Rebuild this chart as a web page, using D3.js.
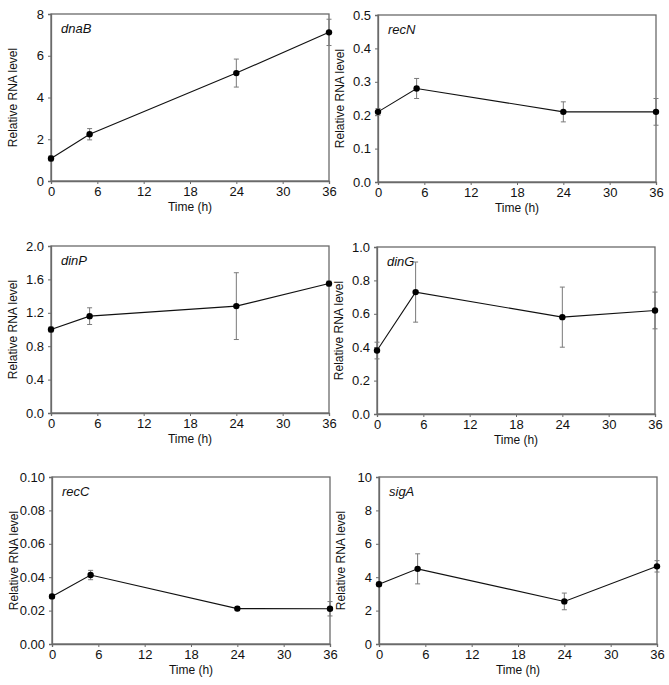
<!DOCTYPE html>
<html><head><meta charset="utf-8">
<script src="https://cdn.jsdelivr.net/npm/d3@7"></script>
<style>
html,body{margin:0;padding:0;background:#fff;}
svg text{font-family:"Liberation Sans",Arial,sans-serif;}
</style></head>
<body>
<svg id="chart" width="669" height="685"></svg>
<script>
// ---- data ----
const times = [0, 5, 24, 36];
const xTicks = [0, 6, 12, 18, 24, 30, 36];
const genes = ["dnaB", "recN", "dinP", "dinG", "recC", "sigA"];

const dnaBValues = [1.08, 2.24, 5.17, 7.12];
const dnaBErrors = [0.12, 0.27, 0.67, 0.63];
const recNValues = [0.21, 0.28, 0.21, 0.21];
const recNErrors = [0.01, 0.03, 0.03, 0.04];
const dinPValues = [1.0, 1.16, 1.28, 1.55];
const dinPErrors = [0.03, 0.1, 0.4, 0.03];
const dinGValues = [0.38, 0.73, 0.58, 0.62];
const dinGErrors = [0.05, 0.18, 0.18, 0.11];
const recCValues = [0.0285, 0.0413, 0.0212, 0.0211];
const recCErrors = [0.0012, 0.0028, 0.0012, 0.0043];
const sigAValues = [3.58, 4.5, 2.55, 4.65];
const sigAErrors = [0.12, 0.9, 0.5, 0.34];

const dnaBTicks = [0, 2, 4, 6, 8];
const recNTicks = [0, 0.1, 0.2, 0.3, 0.4, 0.5];
const dinPTicks = [0, 0.4, 0.8, 1.2, 1.6, 2.0];
const dinGTicks = [0, 0.2, 0.4, 0.6, 0.8, 1.0];
const recCTicks = [0, 0.02, 0.04, 0.06, 0.08, 0.10];
const sigATicks = [0, 2, 4, 6, 8, 10];

const yTickFormats = [".0f", ".1f", ".1f", ".1f", ".2f", ".0f"];
const xTitle = "Time (h)";
const yTitle = "Relative RNA level";

// ---- layout ----
const panels = [
  {gene: genes[0], values: dnaBValues, errors: dnaBErrors, ticks: dnaBTicks, fmt: yTickFormats[0], x: 51, y: 14},
  {gene: genes[1], values: recNValues, errors: recNErrors, ticks: recNTicks, fmt: yTickFormats[1], x: 378, y: 15},
  {gene: genes[2], values: dinPValues, errors: dinPErrors, ticks: dinPTicks, fmt: yTickFormats[2], x: 51, y: 246},
  {gene: genes[3], values: dinGValues, errors: dinGErrors, ticks: dinGTicks, fmt: yTickFormats[3], x: 377, y: 247},
  {gene: genes[4], values: recCValues, errors: recCErrors, ticks: recCTicks, fmt: yTickFormats[4], x: 52, y: 477},
  {gene: genes[5], values: sigAValues, errors: sigAErrors, ticks: sigATicks, fmt: yTickFormats[5], x: 379, y: 477}
];
const W = 278, H = 167;
const frameColor = "#6a6a6a";
const errColor = "#7a7a7a";

const svg = d3.select("#chart");

panels.forEach(p => {
  const g = svg.append("g").attr("transform", `translate(${p.x},${p.y})`);
  const x = d3.scaleLinear().domain([0, 36]).range([0, W]);
  const y = d3.scaleLinear().domain([0, p.ticks[p.ticks.length - 1]]).range([H, 0]);

  g.append("rect").attr("x", 0).attr("y", 0).attr("width", W).attr("height", H)
    .attr("fill", "none").attr("stroke", frameColor).attr("stroke-width", 1.3);

  const xa = g.append("g").attr("transform", `translate(0,${H})`)
    .call(d3.axisBottom(x).tickValues(xTicks).tickSize(3).tickPadding(3).tickFormat(d3.format("d")));
  const ya = g.append("g")
    .call(d3.axisLeft(y).tickValues(p.ticks).tickSize(3).tickPadding(4).tickFormat(d3.format(p.fmt)));
  [xa, ya].forEach(a => {
    a.select(".domain").attr("stroke", frameColor).attr("stroke-width", 1.3);
    a.selectAll(".tick line").attr("stroke", frameColor);
    a.selectAll("text").attr("font-size", 13).attr("fill", "#111")
      .attr("font-family", "'Liberation Sans', Arial, sans-serif");
  });

  g.append("text").attr("x", W / 2).attr("y", H + 30).attr("text-anchor", "middle")
    .attr("font-size", 12).attr("fill", "#111").text(xTitle);
  g.append("text").attr("transform", `translate(${-34},${H / 2}) rotate(-90)`)
    .attr("text-anchor", "middle").attr("font-size", 12).attr("fill", "#111").text(yTitle);

  g.append("text").attr("x", 10).attr("y", 19).attr("font-size", 13)
    .attr("font-style", "italic").attr("fill", "#111").text(p.gene);

  const pts = times.map((t, i) => ({t, v: p.values[i], e: p.errors[i]}));

  const eb = g.append("g").attr("stroke", errColor).attr("stroke-width", 1);
  pts.forEach(d => {
    eb.append("line").attr("x1", x(d.t)).attr("x2", x(d.t)).attr("y1", y(d.v - d.e)).attr("y2", y(d.v + d.e));
    [d.v - d.e, d.v + d.e].forEach(v => {
      eb.append("line").attr("x1", x(d.t) - 2.5).attr("x2", x(d.t) + 2.5).attr("y1", y(v)).attr("y2", y(v));
    });
  });

  g.append("path").datum(pts)
    .attr("d", d3.line().x(d => x(d.t)).y(d => y(d.v)))
    .attr("fill", "none").attr("stroke", "#111").attr("stroke-width", 1.1);

  g.selectAll("circle.pt").data(pts).enter().append("circle")
    .attr("class", "pt").attr("cx", d => x(d.t)).attr("cy", d => y(d.v)).attr("r", 3.2)
    .attr("fill", "#000");
});
</script>
</body></html>
